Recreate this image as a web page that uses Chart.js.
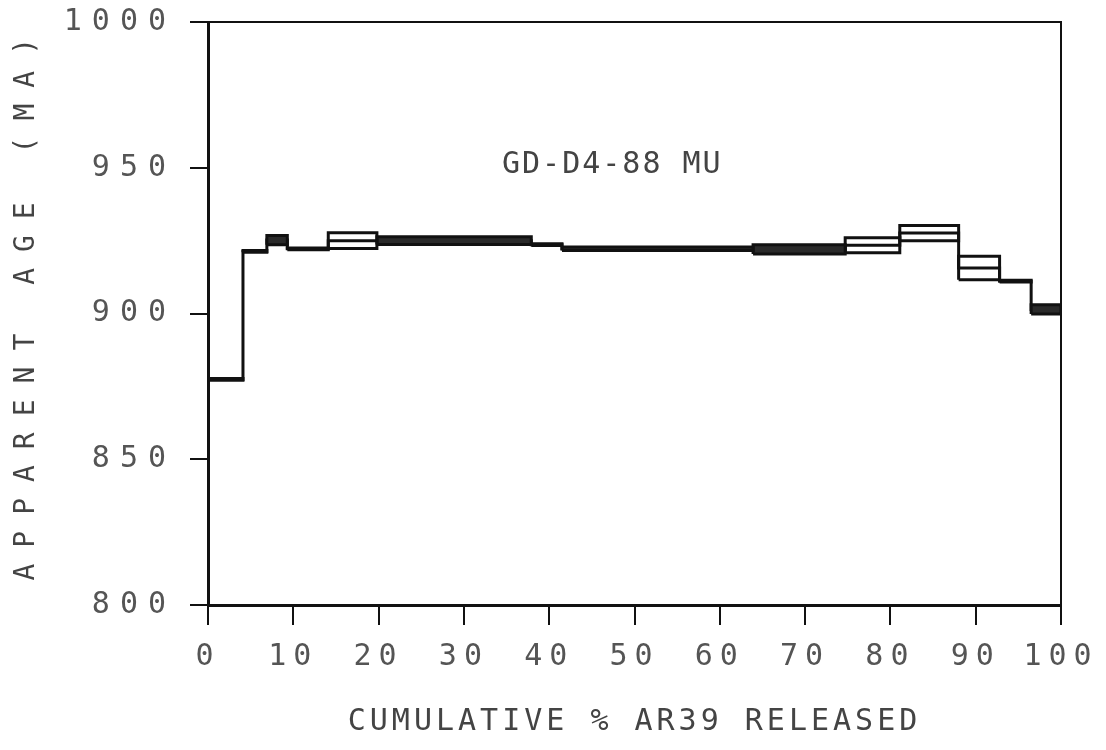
<!DOCTYPE html>
<html>
<head>
<meta charset="utf-8">
<script src="https://cdn.jsdelivr.net/npm/chart.js@4"></script>
<style>
  html, body { margin: 0; padding: 0; background: #fff; }
  #wrap { width: 1106px; height: 750px; }
</style>
</head>
<body>
<div id="wrap"><canvas id="chart"></canvas></div>
<script>
// age spectrum steps (cumulative % 39Ar released, apparent age in Ma)
const stepStart = [0, 4.1, 6.9, 9.3, 14.1, 19.8, 37.9, 41.5, 63.9, 74.7, 81.1, 88.0, 92.8, 96.5];
const stepEnd   = [4.1, 6.9, 9.3, 14.1, 19.8, 37.9, 41.5, 63.9, 74.7, 81.1, 88.0, 92.8, 96.5, 100];
const ages      = [877.4, 921.3, 925.2, 922.2, 925.0, 925.0, 923.6, 922.2, 922.0, 923.4, 927.6, 915.6, 911.1, 901.4];
const ageErr    = [0.3, 0.3, 1.6, 0.3, 2.7, 1.3, 0.3, 0.6, 1.6, 2.6, 2.6, 4.0, 0.3, 1.6];

const xTicks = [0, 10, 20, 30, 40, 50, 60, 70, 80, 90, 100];
const yTicks = [800, 850, 900, 950, 1000];
const sampleName = "GD-D4-88 MU";

const INK = "#111";
const FONT = "'DejaVu Sans Mono', 'Liberation Mono', monospace";

// one closed box per step, drawn from its plateau +/- error
const boxSets = stepStart.map((x0, i) => {
  const lo = ages[i] - ageErr[i], hi = ages[i] + ageErr[i], x1 = stepEnd[i];
  const solid = ageErr[i] < 2;
  return {
    data: [{ x: x0, y: lo }, { x: x1, y: lo }, { x: x1, y: hi }, { x: x0, y: hi }, { x: x0, y: lo }],
    borderColor: INK,
    borderWidth: 3,
    backgroundColor: solid ? "#2a2a2a" : "transparent",
    fill: solid ? "shape" : false,
    pointRadius: 0,
    tension: 0,
  };
});

// the plateau line through every step, with the risers between them
const stepLine = {
  data: stepStart.map((x, i) => ({ x, y: ages[i] })).concat([{ x: 100, y: ages[ages.length - 1] }]),
  stepped: "before",
  borderColor: INK,
  borderWidth: 3,
  pointRadius: 0,
  fill: false,
};

// let each axis keep its own letter spacing, like the plotter's lettering
function spaceOut(scale, tickGap, titleGap) {
  if (scale._spaced) return;
  scale._spaced = true;
  const ctx = scale.ctx;
  const drawLabels = scale.drawLabels, drawTitle = scale.drawTitle;
  scale.drawLabels = function (area) { ctx.letterSpacing = tickGap; drawLabels.call(this, area); ctx.letterSpacing = "0px"; };
  scale.drawTitle = function () { ctx.letterSpacing = titleGap; drawTitle.call(this); ctx.letterSpacing = "0px"; };
}

const framePlugin = {
  id: "frame",
  afterLayout(chart) {
    spaceOut(chart.scales.x, "7px", "4px");
    spaceOut(chart.scales.y, "10px", "16px");
  },
  beforeDatasetsDraw(chart) {
    const { ctx, chartArea: a } = chart;
    ctx.save();
    ctx.strokeStyle = INK;
    ctx.lineWidth = 2;
    ctx.beginPath();
    ctx.moveTo(a.left - 18, a.top);
    ctx.lineTo(a.right, a.top);
    ctx.lineTo(a.right, a.bottom);
    ctx.stroke();
    ctx.restore();
  },
  afterDatasetsDraw(chart) {
    const { ctx, scales } = chart;
    ctx.save();
    ctx.font = "30px " + FONT;
    ctx.fillStyle = "#444";
    ctx.letterSpacing = "2px";
    ctx.textAlign = "center";
    ctx.textBaseline = "middle";
    ctx.fillText(sampleName, scales.x.getPixelForValue(47.4), scales.y.getPixelForValue(951));
    ctx.restore();
  },
};

new Chart(document.getElementById("chart"), {
  type: "line",
  data: { datasets: [...boxSets, stepLine] },
  options: {
    responsive: true,
    maintainAspectRatio: false,
    animation: false,
    layout: { padding: { top: 22, right: 45, bottom: 0, left: 0 } },
    plugins: { legend: { display: false }, tooltip: { enabled: false } },
    scales: {
      x: {
        type: "linear",
        min: 0,
        max: 100,
        afterBuildTicks: (s) => { s.ticks = xTicks.map((v) => ({ value: v })); },
        afterFit: (s) => { s.height = 145; s.paddingLeft = 0; s.paddingRight = 0; },
        grid: { drawOnChartArea: false, drawTicks: true, tickLength: 20, color: INK, lineWidth: 2 },
        border: { display: true, color: INK, width: 3 },
        ticks: { color: "#555", font: { family: FONT, size: 30 }, padding: 14, maxRotation: 0, autoSkip: false, callback: (v) => String(v) },
        title: { display: true, text: "CUMULATIVE % AR39 RELEASED", color: "#444", font: { family: FONT, size: 30 }, padding: { top: 0, bottom: 10 } },
      },
      y: {
        type: "linear",
        min: 800,
        max: 1000,
        afterBuildTicks: (s) => { s.ticks = yTicks.map((v) => ({ value: v })); },
        afterFit: (s) => { s.width = 208; s.paddingTop = 0; s.paddingBottom = 0; },
        grid: { drawOnChartArea: false, drawTicks: true, tickLength: 18, color: INK, lineWidth: 2 },
        border: { display: true, color: INK, width: 3 },
        ticks: { color: "#555", font: { family: FONT, size: 30 }, padding: 14, callback: (v) => String(v) },
        title: { display: true, text: "APPARENT AGE (MA)", align: "end", color: "#444", font: { family: FONT, size: 28 }, padding: { top: 10, bottom: 0 } },
      },
    },
  },
  plugins: [framePlugin],
});
</script>
</body>
</html>
